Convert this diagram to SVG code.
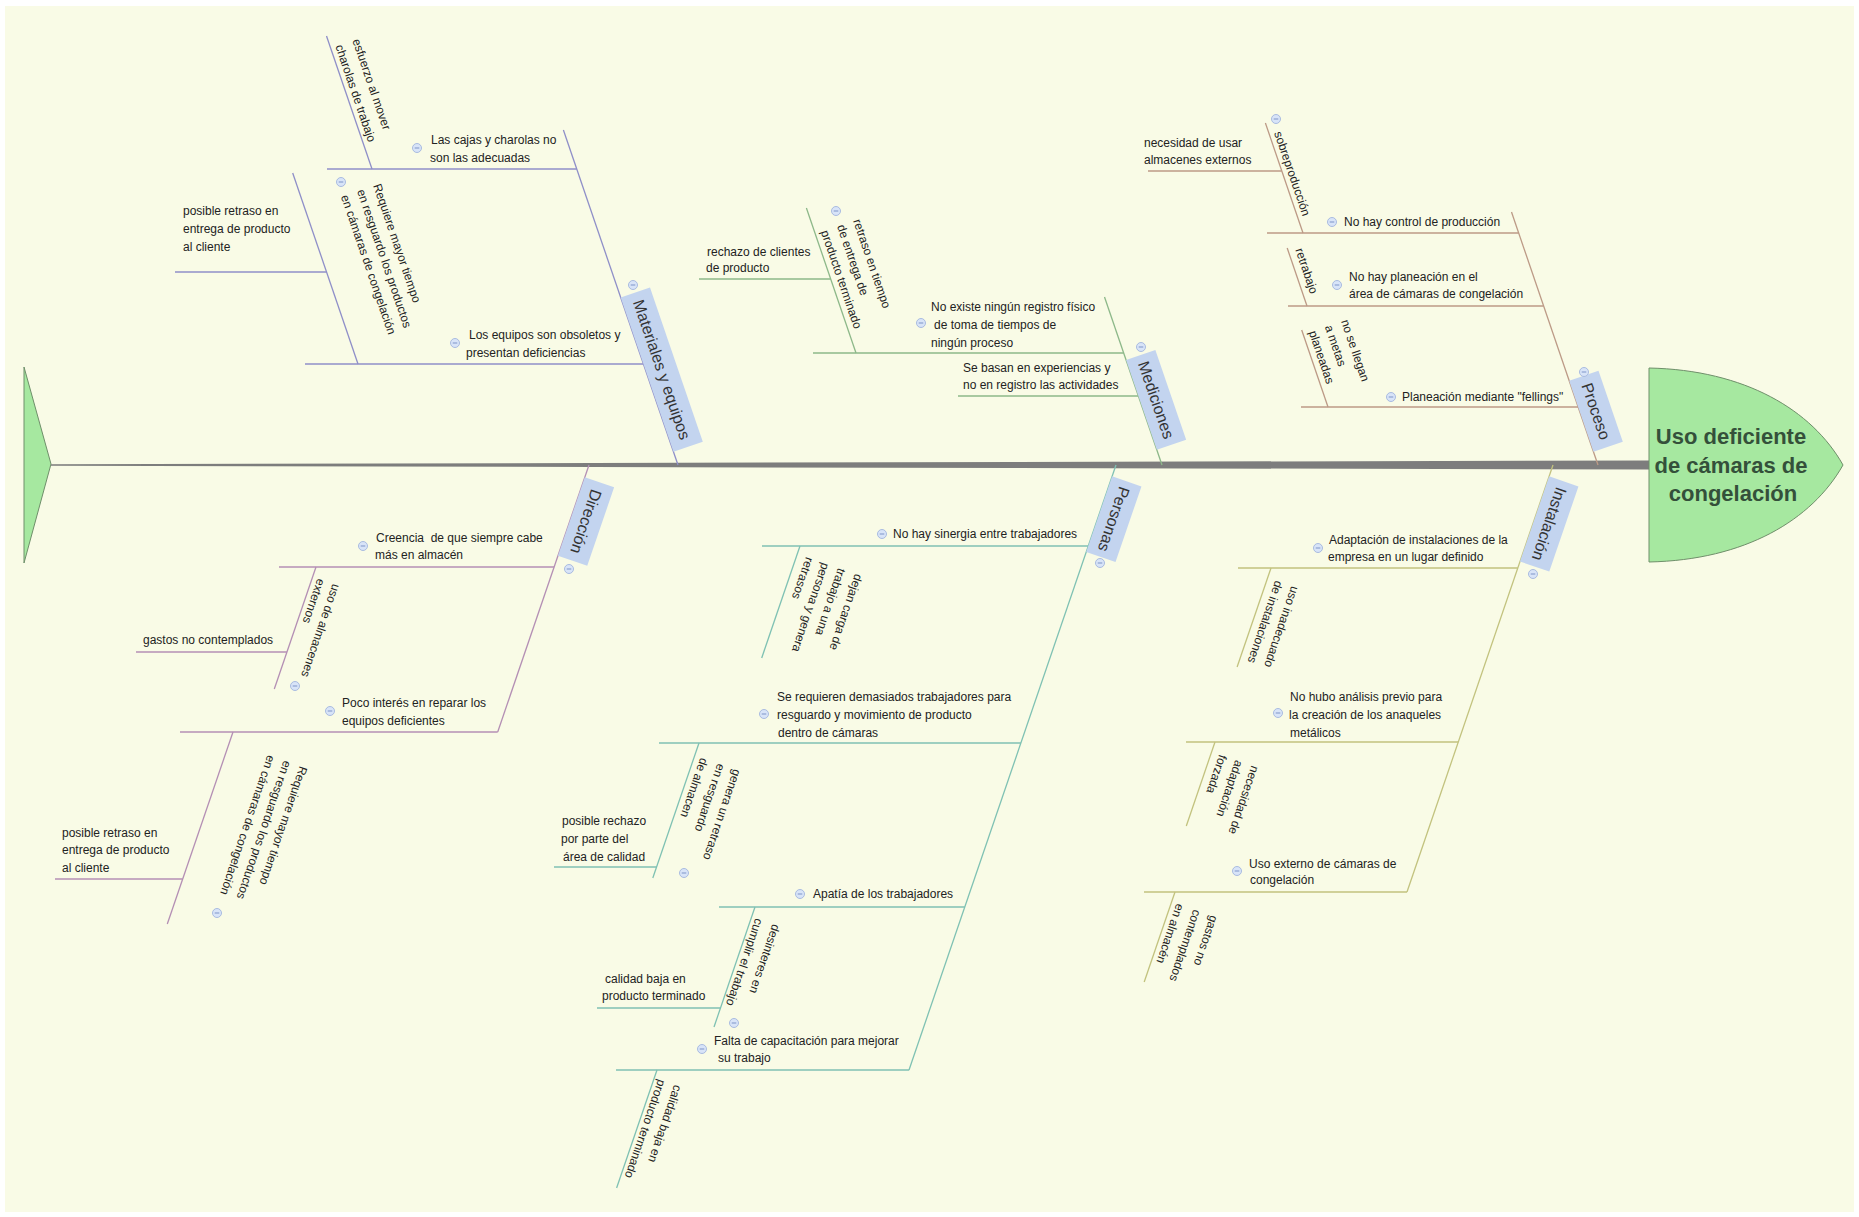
<svg xmlns="http://www.w3.org/2000/svg" xmlns:xlink="http://www.w3.org/1999/xlink" width="1859" height="1217" viewBox="0 0 1859 1217">
<style>
.t{font-family:"Liberation Sans",Arial,sans-serif;font-size:12px;fill:#222}
.cat{font-family:"Liberation Sans",Arial,sans-serif;font-size:16px;fill:#333;text-anchor:middle}
.head{font-family:"Liberation Sans",Arial,sans-serif;font-size:22px;font-weight:bold;fill:#34503a;text-anchor:middle}
.box{fill:#c3d4ef}
.fish{fill:#a6e8a0;stroke:#6f8f6a;stroke-width:1}
#connectors line{stroke-width:1.3;fill:none}
.cm{stroke:#8f8fc8}.cd{stroke:#8db889}.cp{stroke:#bc9a86}.cdi{stroke:#b48fb4}.cpe{stroke:#7fc1b3}.ci{stroke:#c2c27e}
</style>
<defs>
<g id="tog"><circle r="4.5" fill="#d8e4f8" stroke="#a9bbe0" stroke-width="1"/><line x1="-2.3" y1="0" x2="2.3" y2="0" stroke="#7f95c8" stroke-width="1"/></g>
</defs>
<rect width="1859" height="1217" fill="#ffffff"/>
<rect x="5" y="6" width="1849" height="1206" fill="#f9fbe6"/>

<g id="spine">
<polygon points="24,367 51,464 24,563" class="fish"/>
<polygon points="51,464.2 1649,460.5 1649,469.5 51,465.8" fill="#7d7d7d"/>
</g>

<g id="connectors">
<line class="cm" x1="678" y1="465" x2="563.4" y2="130"/>
<line class="cm" x1="327" y1="169" x2="576.8" y2="169"/>
<line class="cm" x1="305" y1="364" x2="643.5" y2="364"/>
<line class="cm" x1="326.5" y1="36" x2="372" y2="169"/>
<line class="cm" x1="292.7" y1="173" x2="358" y2="364"/>
<line class="cm" x1="175" y1="272" x2="326.5" y2="272"/>

<line class="cd" x1="1162" y1="465" x2="1104.5" y2="297"/>
<line class="cd" x1="813" y1="353" x2="1123.7" y2="353"/>
<line class="cd" x1="958" y1="396" x2="1138.4" y2="396"/>
<line class="cd" x1="806.4" y1="208" x2="856" y2="353"/>
<line class="cd" x1="699" y1="279" x2="830.7" y2="279"/>

<line class="cp" x1="1598" y1="465" x2="1511.5" y2="212"/>
<line class="cp" x1="1267" y1="233" x2="1518.7" y2="233"/>
<line class="cp" x1="1288" y1="306" x2="1543.6" y2="306"/>
<line class="cp" x1="1301" y1="407" x2="1578.2" y2="407"/>
<line class="cp" x1="1265.4" y1="123" x2="1303" y2="233"/>
<line class="cp" x1="1148" y1="171" x2="1281.8" y2="171"/>
<line class="cp" x1="1287.2" y1="248" x2="1307" y2="306"/>
<line class="cp" x1="1301.7" y1="330" x2="1328" y2="407"/>

<line class="cdi" x1="589" y1="465" x2="497.7" y2="732"/>
<line class="cdi" x1="279" y1="567" x2="554.1" y2="567"/>
<line class="cdi" x1="180" y1="732" x2="497.7" y2="732"/>
<line class="cdi" x1="316" y1="567" x2="274.3" y2="689"/>
<line class="cdi" x1="136" y1="652" x2="286.9" y2="652"/>
<line class="cdi" x1="233" y1="732" x2="167.3" y2="924"/>
<line class="cdi" x1="55" y1="879" x2="182.7" y2="879"/>

<line class="cpe" x1="1116" y1="465" x2="909" y2="1070"/>
<line class="cpe" x1="762" y1="546" x2="1088.3" y2="546"/>
<line class="cpe" x1="659" y1="743" x2="1020.9" y2="743"/>
<line class="cpe" x1="719" y1="907" x2="964.8" y2="907"/>
<line class="cpe" x1="616" y1="1070" x2="909.1" y2="1070"/>
<line class="cpe" x1="800" y1="546" x2="761.7" y2="658"/>
<line class="cpe" x1="699" y1="743" x2="652.8" y2="878"/>
<line class="cpe" x1="554" y1="867" x2="656.6" y2="867"/>
<line class="cpe" x1="755" y1="907" x2="714" y2="1027"/>
<line class="cpe" x1="597" y1="1008" x2="720.5" y2="1008"/>
<line class="cpe" x1="657" y1="1070" x2="616.6" y2="1188"/>

<line class="ci" x1="1553" y1="465" x2="1407" y2="892"/>
<line class="ci" x1="1238" y1="568" x2="1517.8" y2="568"/>
<line class="ci" x1="1186" y1="742" x2="1458.3" y2="742"/>
<line class="ci" x1="1144" y1="892" x2="1407" y2="892"/>
<line class="ci" x1="1271" y1="568" x2="1237.1" y2="667"/>
<line class="ci" x1="1215" y1="742" x2="1186.3" y2="826"/>
<line class="ci" x1="1175" y1="892" x2="1144.2" y2="982"/>
</g>

<g id="head">
<path class="fish" d="M1649,368 C1745,370 1812,410 1843,465 C1812,520 1745,560 1649,562 Z"/>
<text class="head" x="1731" y="444">Uso deficiente</text>
<text class="head" x="1731" y="473">de cámaras de</text>
<text class="head" x="1733" y="501">congelación</text>
</g>

<!-- Categories -->
<g id="cat-materiales" transform="translate(678,465) rotate(71.1)">
<rect class="box" x="-177" y="-31" width="163" height="31"/>
<text class="cat" x="-95.5" y="-10">Materiales y equipos</text>
</g>
<g id="cat-mediciones" transform="translate(1162,465) rotate(71.1)">
<rect class="box" x="-111" y="-31" width="95" height="31"/>
<text class="cat" x="-63.5" y="-10">Mediciones</text>
</g>
<g id="cat-proceso" transform="translate(1598,465) rotate(71.1)">
<rect class="box" x="-89" y="-31" width="75" height="31"/>
<text class="cat" x="-51.5" y="-10">Proceso</text>
</g>
<g id="cat-direccion" transform="translate(589,465) rotate(108.9)">
<rect class="box" x="13" y="-31" width="83" height="31"/>
<text class="cat" x="54.5" y="-10">Dirección</text>
</g>
<g id="cat-personas" transform="translate(1116,465) rotate(108.9)">
<rect class="box" x="12" y="-31" width="80" height="31"/>
<text class="cat" x="52" y="-10">Personas</text>
</g>
<g id="cat-instalacion" transform="translate(1553,465) rotate(108.9)">
<rect class="box" x="12" y="-31" width="90" height="31"/>
<text class="cat" x="57" y="-10">Instalación</text>
</g>

<!-- Materiales y equipos nodes -->
<g id="n-cajas"><text class="t" x="431" y="144">Las cajas y charolas no</text><text class="t" x="430" y="162">son las adecuadas</text></g>
<g id="n-esfuerzo" transform="translate(372,169) rotate(71.1)"><text class="t" x="-128" y="-23">esfuerzo al mover</text><text class="t" x="-128" y="-5">charolas de trabajo</text></g>
<g id="n-equipos"><text class="t" x="469" y="339">Los equipos son obsoletos y</text><text class="t" x="466" y="357">presentan deficiencias</text></g>
<g id="n-requiere1" transform="translate(358,364) rotate(71.1)"><text class="t" x="-164" y="-72">Requiere mayor tiempo</text><text class="t" x="-164" y="-55">en resguardo los productos</text><text class="t" x="-164" y="-38">en cámaras de congelación</text></g>
<g id="n-retraso1"><text class="t" x="183" y="215">posible retraso en</text><text class="t" x="183" y="233">entrega de producto</text><text class="t" x="183" y="251">al cliente</text></g>

<!-- Mediciones nodes -->
<g id="n-registro"><text class="t" x="931" y="311">No existe ningún registro físico</text><text class="t" x="934" y="329">de toma de tiempos de</text><text class="t" x="931" y="347">ningún proceso</text></g>
<g id="n-retrasotiempo" transform="translate(856,353) rotate(71.1)"><text class="t" x="-126" y="-40">retraso en tiempo</text><text class="t" x="-126" y="-23">de entrega de</text><text class="t" x="-126" y="-6">producto terminado</text></g>
<g id="n-rechazo"><text class="t" x="707" y="256">rechazo de clientes</text><text class="t" x="706" y="272">de producto</text></g>
<g id="n-experiencias"><text class="t" x="963" y="372">Se basan en experiencias y</text><text class="t" x="963" y="389">no en registro las actividades</text></g>

<!-- Proceso nodes -->
<g id="n-control"><text class="t" x="1344" y="226">No hay control de producción</text></g>
<g id="n-sobreproduccion" transform="translate(1303,233) rotate(71.1)"><text class="t" x="-104" y="-5">sobreproducción</text></g>
<g id="n-almacenes"><text class="t" x="1144" y="147">necesidad de usar</text><text class="t" x="1144" y="164">almacenes externos</text></g>
<g id="n-planeacion"><text class="t" x="1349" y="281">No hay planeación en el</text><text class="t" x="1349" y="298">área de cámaras de congelación</text></g>
<g id="n-retrabajo" transform="translate(1307,306) rotate(71.1)"><text class="t" x="-57" y="-7">retrabajo</text></g>
<g id="n-fellings"><text class="t" x="1402" y="401">Planeación mediante "fellings"</text></g>
<g id="n-metas" transform="translate(1328,407) rotate(71.1)"><text class="t" x="-77" y="-40">no se llegan</text><text class="t" x="-77" y="-23">a metas</text><text class="t" x="-77" y="-6">planeadas</text></g>

<!-- Dirección nodes -->
<g id="n-creencia"><text class="t" x="376" y="542" xml:space="preserve">Creencia  de que siempre cabe</text><text class="t" x="375" y="559">más en almacén</text></g>
<g id="n-usoalmacenes" transform="translate(316,567) rotate(108.9)"><text class="t" x="10" y="-21">uso de almacenes</text><text class="t" x="10" y="-5">externos</text></g>
<g id="n-gastos1"><text class="t" x="143" y="644">gastos no contemplados</text></g>
<g id="n-pocointeres"><text class="t" x="342" y="707">Poco interés en reparar los</text><text class="t" x="342" y="725">equipos deficientes</text></g>
<g id="n-requiere2" transform="translate(233,732) rotate(108.9)"><text class="t" x="10" y="-74">Requiere mayor tiempo</text><text class="t" x="10" y="-57">en resguardo los productos</text><text class="t" x="10" y="-40">en cámaras de congelación</text></g>
<g id="n-retraso2"><text class="t" x="62" y="837">posible retraso en</text><text class="t" x="62" y="854">entrega de producto</text><text class="t" x="62" y="872">al cliente</text></g>

<!-- Personas nodes -->
<g id="n-sinergia"><text class="t" x="893" y="538">No hay sinergia entre trabajadores</text></g>
<g id="n-carga" transform="translate(800,546) rotate(108.9)"><text class="t" x="8" y="-61">dejan carga de</text><text class="t" x="8" y="-43">trabajo a una</text><text class="t" x="8" y="-26">persona y genera</text><text class="t" x="8" y="-9">retrasos</text></g>
<g id="n-demasiados"><text class="t" x="777" y="701">Se requieren demasiados trabajadores para</text><text class="t" x="777" y="719">resguardo y movimiento de producto</text><text class="t" x="778" y="737">dentro de cámaras</text></g>
<g id="n-generaretraso" transform="translate(699,743) rotate(108.9)"><text class="t" x="13" y="-41">genera un retraso</text><text class="t" x="13" y="-24">en resguardo</text><text class="t" x="13" y="-6">de almacen</text></g>
<g id="n-rechazocalidad"><text class="t" x="562" y="825">posible rechazo</text><text class="t" x="561" y="843">por parte del</text><text class="t" x="563" y="861">área de calidad</text></g>
<g id="n-apatia"><text class="t" x="813" y="898">Apatía de los trabajadores</text></g>
<g id="n-desinteres" transform="translate(755,907) rotate(108.9)"><text class="t" x="10" y="-22">desinteres en</text><text class="t" x="10" y="-4">cumplir el trabajo</text></g>
<g id="n-calidad1"><text class="t" x="605" y="983">calidad baja en</text><text class="t" x="602" y="1000">producto terminado</text></g>
<g id="n-capacitacion"><text class="t" x="714" y="1045">Falta de capacitación para mejorar</text><text class="t" x="718" y="1062">su trabajo</text></g>
<g id="n-calidad2" transform="translate(657,1070) rotate(108.9)"><text class="t" x="8" y="-21">calidad baja en</text><text class="t" x="8" y="-4">producto terminado</text></g>

<!-- Instalación nodes -->
<g id="n-adaptacion"><text class="t" x="1329" y="544">Adaptación de instalaciones de la</text><text class="t" x="1328" y="561">empresa en un lugar definido</text></g>
<g id="n-inadecuado" transform="translate(1271,568) rotate(108.9)"><text class="t" x="10" y="-25">uso inadecuado</text><text class="t" x="10" y="-8">de instalaciones</text></g>
<g id="n-analisis"><text class="t" x="1290" y="701">No hubo análisis previo para</text><text class="t" x="1289" y="719">la creación de los anaqueles</text><text class="t" x="1290" y="737">metálicos</text></g>
<g id="n-forzada" transform="translate(1215,742) rotate(108.9)"><text class="t" x="10" y="-42">necesidad de</text><text class="t" x="10" y="-25">adaptación</text><text class="t" x="10" y="-8">forzada</text></g>
<g id="n-externo"><text class="t" x="1249" y="868">Uso externo de cámaras de</text><text class="t" x="1250" y="884">congelación</text></g>
<g id="n-gastos2" transform="translate(1175,892) rotate(108.9)"><text class="t" x="10" y="-41">gastos no</text><text class="t" x="10" y="-23">contemplados</text><text class="t" x="10" y="-5">en almacén</text></g>

<g id="toggles">
<use xlink:href="#tog" x="633" y="285"/>
<use xlink:href="#tog" x="1141" y="347"/>
<use xlink:href="#tog" x="1584" y="372"/>
<use xlink:href="#tog" x="569" y="569"/>
<use xlink:href="#tog" x="1100" y="563"/>
<use xlink:href="#tog" x="1533" y="574"/>
<use xlink:href="#tog" x="341" y="182"/>
<use xlink:href="#tog" x="836" y="211"/>
<use xlink:href="#tog" x="1276" y="119"/>
<use xlink:href="#tog" x="295" y="686"/>
<use xlink:href="#tog" x="217" y="913"/>
<use xlink:href="#tog" x="684" y="873"/>
<use xlink:href="#tog" x="734" y="1023"/>
<use xlink:href="#tog" x="417" y="148"/>
<use xlink:href="#tog" x="455" y="343"/>
<use xlink:href="#tog" x="921" y="323"/>
<use xlink:href="#tog" x="1332" y="222"/>
<use xlink:href="#tog" x="1337" y="285"/>
<use xlink:href="#tog" x="1391" y="397"/>
<use xlink:href="#tog" x="363" y="546"/>
<use xlink:href="#tog" x="330" y="711"/>
<use xlink:href="#tog" x="882" y="534"/>
<use xlink:href="#tog" x="764" y="714"/>
<use xlink:href="#tog" x="800" y="894"/>
<use xlink:href="#tog" x="702" y="1049"/>
<use xlink:href="#tog" x="1318" y="548"/>
<use xlink:href="#tog" x="1278" y="713"/>
<use xlink:href="#tog" x="1237" y="871"/>
</g>
</svg>
